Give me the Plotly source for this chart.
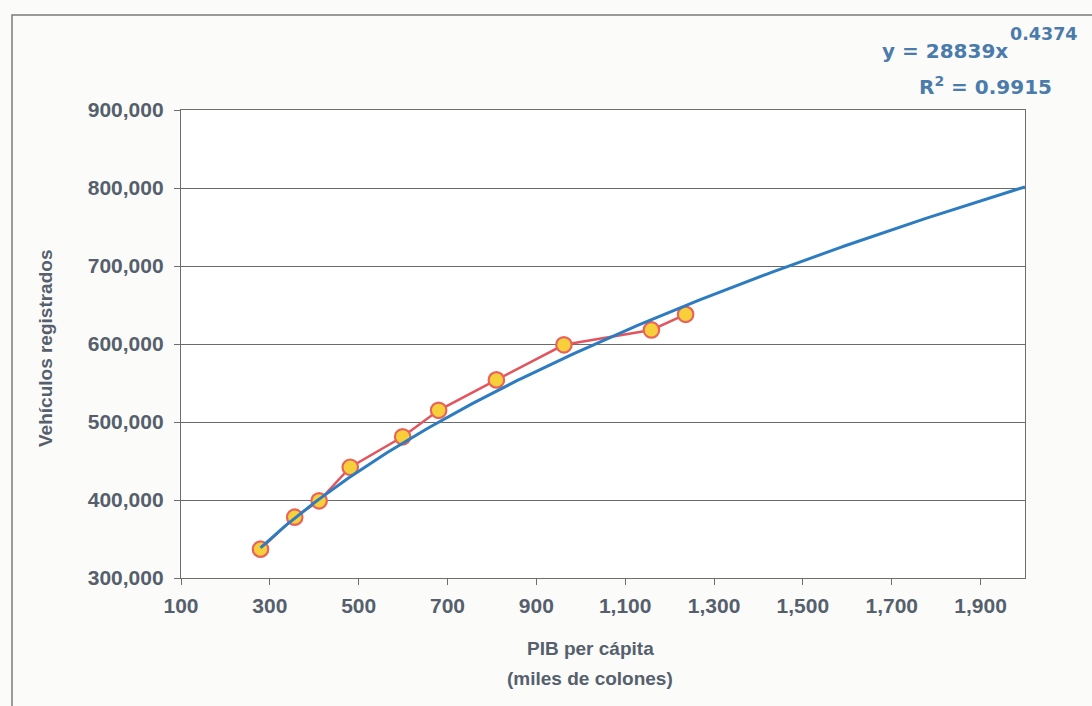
import numpy as np
import plotly.graph_objects as go

# PIB per cápita (miles de colones) vs. vehículos registrados
pib_per_capita = [279, 356, 411, 481, 599, 680, 810, 962, 1159, 1236]
vehiculos = [337000, 378000, 399000, 442000, 481000, 515000, 554000, 599000, 618000, 638000]

# Power trendline reported on the chart: y = a * x^b
coef_a = 28839
exp_b = 0.4374
r_squared = 0.9915
trend_x_max = 2000

x_tick_values = list(range(100, 2000, 200))
y_tick_values = list(range(300000, 900001, 100000))

TEXT_GRAY = "#56606d"
EQ_BLUE = "#4b7bab"
FONT = "Liberation Sans, Arial, sans-serif"
EQ_FONT = "DejaVu Sans, Arial, sans-serif"

trend_x = np.linspace(min(pib_per_capita), trend_x_max, 200)
trend_y = coef_a * trend_x ** exp_b

fig = go.Figure()

fig.add_trace(go.Scatter(
    x=pib_per_capita, y=vehiculos, mode="lines+markers",
    line=dict(color="#e2555f", width=2.5),
    marker=dict(size=15.5, color="#f6cf3a", line=dict(color="#e8645a", width=2.2)),
    showlegend=False,
))
fig.add_trace(go.Scatter(
    x=trend_x, y=trend_y, mode="lines",
    line=dict(color="#2e7cc0", width=3),
    showlegend=False,
))

# plot area occupies pixels x 181..1025, y 110..578
L, R, T, B = 181, 1025, 110, 578
W, H = 1092, 706


def px(xp):
    return (xp - L) / (R - L)


def py(yp):
    return (B - yp) / (B - T)


axis_common = dict(
    showline=True, linecolor="#6e6e6e", linewidth=1.3, mirror=True,
    ticks="outside", tickcolor="#6e6e6e", ticklen=6, tickwidth=1.3,
    tickfont=dict(family=FONT, size=21, color=TEXT_GRAY, weight="bold"),
    zeroline=False,
)

fig.update_xaxes(
    range=[100, 2000], tickvals=x_tick_values, tickformat=",d",
    showgrid=False, ticklabelstandoff=3, **axis_common,
)
fig.update_yaxes(
    range=[300000, 900000], tickvals=y_tick_values, tickformat=",d",
    showgrid=True, gridcolor="#6a6a6a", gridwidth=1.2, ticklabelstandoff=6,
    **axis_common,
)

title_font = dict(family=FONT, size=19, color=TEXT_GRAY, weight="bold")
annotations = [
    dict(text="Vehículos registrados", x=px(45), y=py(349), textangle=-90,
         font=title_font),
    dict(text="PIB per cápita", x=px(590), y=py(648), font=title_font),
    dict(text="(miles de colones)", x=px(590), y=py(678), font=title_font),
    dict(text=f"y = {coef_a}x", x=px(1010), y=py(51), xanchor="right",
         font=dict(family=EQ_FONT, size=20, color=EQ_BLUE, weight="bold")),
    dict(text=f"{exp_b}", x=px(1008), y=py(34), xanchor="left",
         font=dict(family=EQ_FONT, size=17.5, color=EQ_BLUE, weight="bold")),
    dict(text=f"R<sup>2</sup> = {r_squared}", x=px(1054), y=py(86), xanchor="right",
         font=dict(family=EQ_FONT, size=20, color=EQ_BLUE, weight="bold")),
]
for a in annotations:
    a.setdefault("xanchor", "center")
    a.update(xref="paper", yref="paper", yanchor="middle", showarrow=False)

fig.update_layout(
    width=W, height=H,
    margin=dict(l=L, r=W - R, t=T, b=H - B),
    paper_bgcolor="#fbfcfa", plot_bgcolor="#ffffff",
    annotations=annotations,
    shapes=[dict(type="rect", xref="paper", yref="paper",
                 x0=px(12), x1=px(1110), y0=py(15), y1=py(740),
                 line=dict(color="#7a7a7a", width=1.5), layer="below")],
)

fig.write_html("out.html")
